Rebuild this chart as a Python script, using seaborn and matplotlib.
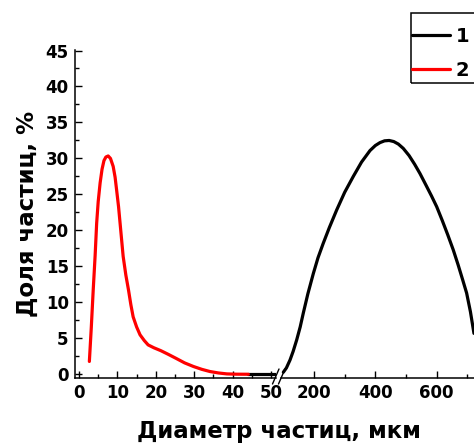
import numpy as np
import pandas as pd
import matplotlib
matplotlib.use("Agg")
import matplotlib.pyplot as plt
from matplotlib.lines import Line2D
from matplotlib.patches import Rectangle
from matplotlib.ticker import MultipleLocator, FixedLocator
import seaborn as sns

# Particle size distributions: fine fraction (curve 2) and coarse fraction (curve 1)
d_fine = [2.7, 3.2, 3.7, 4.2, 4.6, 5.0, 5.5, 6.0, 6.5, 7.0, 7.6, 8.2, 8.9, 9.4, 9.8,
          10.3, 10.7, 11.1, 11.5, 12.2, 12.9, 13.5, 14.1, 15.0, 15.9, 17.0, 18.0,
          19.5, 21.3, 23.2, 25.2, 27.5, 29.8, 32.0, 34.1, 36.3, 38.5, 41.0, 44.1]
share_fine = [1.8, 6.5, 11.7, 16.5, 21.0, 24.0, 26.6, 28.5, 29.7, 30.2, 30.35, 30.0,
              28.9, 27.4, 25.6, 23.3, 21.0, 18.7, 16.4, 13.8, 11.7, 9.7, 8.0, 6.6,
              5.5, 4.7, 4.1, 3.7, 3.3, 2.8, 2.25, 1.6, 1.1, 0.7, 0.4, 0.2, 0.07,
              0.03, 0.02]

d_coarse_low = [44.0, 51.0]
share_coarse_low = [0.0, 0.0]

d_coarse = [100, 110, 121.8, 132, 143.6, 155, 165, 180, 197.7, 213, 230, 250, 274,
            300, 328, 355, 382.6, 400, 415, 430, 445, 460, 475, 491, 510, 528,
            545.6, 565, 583, 600, 618, 636, 654, 670, 685, 697.6, 710, 721.5]
share_coarse = [0.3, 0.9, 2.0, 3.2, 4.8, 6.6, 8.5, 11.2, 14.0, 16.2, 18.2, 20.4,
                22.85, 25.3, 27.5, 29.5, 31.1, 31.8, 32.2, 32.45, 32.5, 32.35, 32.0,
                31.4, 30.4, 29.2, 27.9, 26.3, 24.8, 23.3, 21.4, 19.4, 17.3, 15.2,
                13.1, 11.3, 8.7, 5.7]

series_labels = ["1", "2"]
series_colors = ["#000000", "#ff0000"]

left_ticks = [0, 10, 20, 30, 40, 50]
right_ticks = [200, 400, 600]
y_ticks = [0, 5, 10, 15, 20, 25, 30, 35, 40, 45]

xlabel = "Диаметр частиц, мкм"
ylabel = "Доля частиц, %"

sns.set_theme(style="ticks")
plt.rcParams["font.family"] = ["DejaVu Sans"]
plt.rcParams["font.weight"] = "bold"
plt.rcParams["text.color"] = "black"

W, H = 474, 444
fig = plt.figure(figsize=(W / 100, H / 100), dpi=100)


def frac_box(x0, y0, x1, y1):
    # pixel box (top-left origin) -> figure fraction [left, bottom, width, height]
    return [x0 / W, 1 - y1 / H, (x1 - x0) / W, (y1 - y0) / H]


ax_l = fig.add_axes(frac_box(75, 50, 276, 378))
ax_r = fig.add_axes(frac_box(281, 50, 520, 378))

fine = pd.DataFrame({"d": d_fine, "share": share_fine})
coarse_low = pd.DataFrame({"d": d_coarse_low, "share": share_coarse_low})
coarse = pd.DataFrame({"d": d_coarse, "share": share_coarse})

lw = 2.3
sns.lineplot(data=coarse_low, x="d", y="share", ax=ax_l, color=series_colors[0],
             lw=lw, sort=False, estimator=None)
sns.lineplot(data=fine, x="d", y="share", ax=ax_l, color=series_colors[1],
             lw=lw, sort=False, estimator=None)
sns.lineplot(data=coarse, x="d", y="share", ax=ax_r, color=series_colors[0],
             lw=lw, sort=False, estimator=None)

ylim = (-0.5, 45.07)
ax_l.set_xlim(-1.04, 51.3)
ax_r.set_xlim(92.4, 871.6)
for ax in (ax_l, ax_r):
    ax.set_ylim(*ylim)
    ax.set_xlabel("")
    ax.set_ylabel("")
    ax.spines["top"].set_visible(False)
    ax.spines["right"].set_visible(False)
    ax.spines["bottom"].set_linewidth(1.1)
    ax.spines["left"].set_linewidth(1.1)
    ax.spines["bottom"].set_color("black")
    ax.spines["left"].set_color("black")
    ax.patch.set_alpha(0)
    ax.tick_params(axis="both", which="major", direction="in", length=5, width=1.0,
                   labelsize=12, pad=4.5, colors="black")
    ax.tick_params(axis="both", which="minor", direction="in", length=3, width=1.0,
                   colors="black")

ax_l.xaxis.set_major_locator(FixedLocator(left_ticks))
ax_l.xaxis.set_minor_locator(FixedLocator([5, 15, 25, 35, 45]))
ax_l.yaxis.set_major_locator(FixedLocator(y_ticks))
ax_l.yaxis.set_minor_locator(MultipleLocator(2.5))
ax_l.set_xticklabels([str(v) for v in left_ticks], fontweight="bold")
ax_l.set_yticklabels([str(v) for v in y_ticks], fontweight="bold")

ax_r.xaxis.set_major_locator(FixedLocator(right_ticks))
ax_r.xaxis.set_minor_locator(FixedLocator([300, 500, 700]))
ax_r.set_xticklabels([str(v) for v in right_ticks], fontweight="bold")
ax_r.spines["left"].set_visible(False)
ax_r.tick_params(axis="y", which="both", left=False, labelleft=False)

# axis break marks "//"
for x0 in (272.5, 278.5):
    fig.add_artist(Line2D([x0 / W, (x0 + 6.5) / W], [1 - 384 / H, 1 - 369 / H],
                          transform=fig.transFigure, color="black", lw=1.0))

fig.text(278.5 / W, 1 - 420 / H, xlabel, ha="center", va="top",
         fontsize=16.5, fontweight="bold", color="black")
fig.text(27 / W, 1 - 214 / H, ylabel, ha="center", va="center", rotation=90,
         fontsize=16.5, fontweight="bold", color="black")

# legend
fig.add_artist(Rectangle((410.7 / W, 1 - 83 / H), 90 / W, 70 / H,
                         transform=fig.transFigure, fill=False, lw=1.1, ec="black"))
handles = [Line2D([], [], color=c, lw=lw) for c in series_colors]
leg = fig.legend(handles, series_labels, loc="upper left",
                 bbox_to_anchor=(412 / W, 1 - 27 / H), bbox_transform=fig.transFigure,
                 frameon=False, borderpad=0, borderaxespad=0, handlelength=1.95,
                 handletextpad=0.3, labelspacing=0.76,
                 prop={"size": 14, "weight": "bold"})
for t in leg.get_texts():
    t.set_color("black")

fig.savefig("out.png", dpi=100)
